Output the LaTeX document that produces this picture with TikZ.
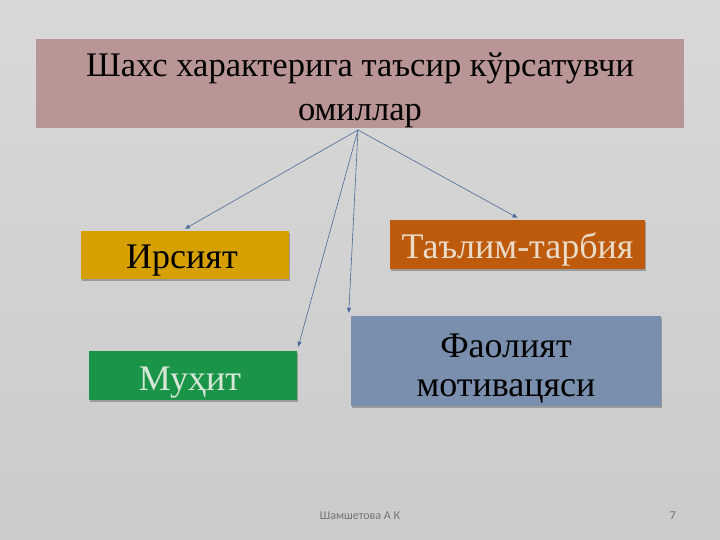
\documentclass[tikz,border=0pt]{standalone}
\usepackage{fontspec}
\setmainfont{Liberation Serif}
\newfontfamily\footfont{Carlito}
\usetikzlibrary{arrows.meta}
\definecolor{bgtop}{HTML}{D8D8D8}
\definecolor{bgbot}{HTML}{CBCBCB}
\definecolor{titlecol}{HTML}{B99596}
\definecolor{irscol}{HTML}{D6A100}
\definecolor{talcol}{HTML}{BE5A0C}
\definecolor{muhcol}{HTML}{1A9548}
\definecolor{faocol}{HTML}{7A8FAE}
\definecolor{arrcol}{HTML}{4A6A9A}
\definecolor{lighttxt}{HTML}{EADCC8}
\definecolor{greentxt}{HTML}{D8E6D8}
\definecolor{shadowcol}{HTML}{9A9A9A}
\tikzset{
  boxstyle/.style={inner sep=0pt},
  txt/.style={inner sep=0pt, anchor=base, font=\fontsize{36}{39}\selectfont},
  titletxt/.style={inner sep=0pt, anchor=base, font=\fontsize{34.5}{40}\selectfont},
  shadowed/.style={preaction={fill=shadowcol, transform canvas={xshift=1pt,yshift=-2pt}}},
  conn/.style={draw=arrcol, line width=0.6pt, -{Triangle[length=5pt,width=4pt]}},
  foot/.style={font=\footfont\fontsize{12}{14}\selectfont, text=black!55}
}
\begin{document}
\begin{tikzpicture}[x=1pt,y=1pt]
\shade[top color=bgtop, bottom color=bgbot] (0,0) rectangle (720,540);
\useasboundingbox (0,0) rectangle (720,540);
% boxes
\node[boxstyle, fill=titlecol, minimum width=648pt, minimum height=89pt] (title) at (360,456.5) {};
\node[boxstyle, shadowed, fill=irscol, minimum width=208pt, minimum height=48pt] (irs) at (185,285) {};
\node[boxstyle, shadowed, fill=talcol, minimum width=255pt, minimum height=49pt] (tal) at (517.5,295.5) {};
\node[boxstyle, shadowed, fill=muhcol, minimum width=208pt, minimum height=49pt] (muh) at (193,164.5) {};
\node[boxstyle, shadowed, fill=faocol, minimum width=310pt, minimum height=90pt] (fao) at (506,179) {};
% texts
\node[titletxt] (title1) at (360,463) {Шахс характерига таъсир кўрсатувчи};
\node[titletxt] (title2) at (360,419) {омиллар};
\node[txt] (irst) at (182,271) {Ирсият};
\node[txt, text=lighttxt] (talt) at (517.5,281) {Таълим-тарбия};
\node[txt, text=greentxt] (muht) at (190,149) {Муҳит};
\node[txt] (fao1) at (506,182) {Фаолият};
\node[txt] (fao2) at (506,143) {мотивацяси};
% connectors
\coordinate (o) at (358,410);
\draw[conn] (o) -- ([yshift=2pt]irs.north);
\draw[conn] (o) -- ([yshift=2pt]tal.north);
\draw[conn] (o) -- ([xshift=1pt,yshift=4pt]muh.north east);
\draw[conn] (o) -- ([xshift=-2pt,yshift=3pt]fao.north west);
% footer
\node[foot] (author) at (360,24) {Шамшетова А К};
\node[foot] (page) at (673,24) {7};
\end{tikzpicture}
\end{document}
